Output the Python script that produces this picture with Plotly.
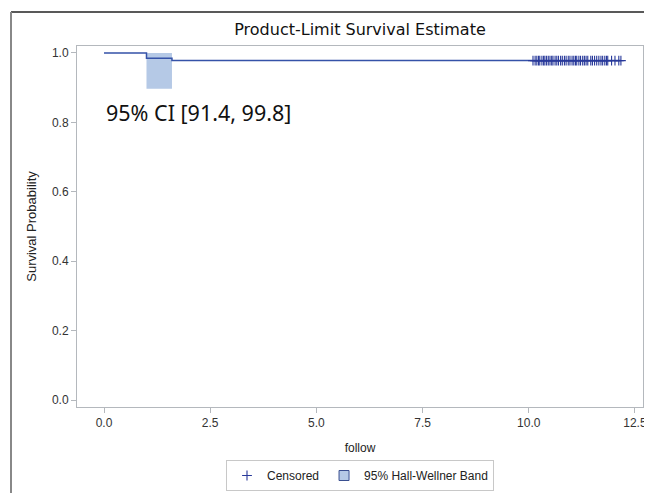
import plotly.graph_objects as go

# Kaplan-Meier step data
km_times = [0.0, 1.0, 1.6, 12.17]
km_surv = [1.0, 0.985, 0.978, 0.978]

# Hall-Wellner band (only drawn over the event interval)
band_times = [1.0, 1.6]
band_upper = [1.0, 1.0]
band_lower = [0.897, 0.897]

# Censored times
censor_times = [
    10.10, 10.15, 10.19, 10.23, 10.26,
    10.31, 10.35, 10.38, 10.42, 10.46, 10.50, 10.54, 10.57,
    10.62, 10.66, 10.70, 10.75, 10.79, 10.84, 10.88, 10.93, 10.97, 11.02, 11.06, 11.10, 11.13,
    11.18, 11.22, 11.27, 11.31, 11.35, 11.39,
    11.46, 11.50, 11.55, 11.60, 11.65, 11.70, 11.74, 11.79, 11.83, 11.86,
    11.95, 12.03, 12.12, 12.17,
]
censor_surv = [0.978] * len(censor_times)

x_ticks = [0.0, 2.5, 5.0, 7.5, 10.0, 12.5]
y_ticks = [0.0, 0.2, 0.4, 0.6, 0.8, 1.0]

LINE = "#3552a8"
MARK = "#28399a"
BAND = "#b5c9e6"
GRAY = "#b4b8bd"
FONT = "Liberation Sans, Arial, sans-serif"
WIDE = "DejaVu Sans, sans-serif"

W, H = 644, 485

fig = go.Figure()

fig.add_trace(go.Scatter(
    x=band_times + band_times[::-1],
    y=band_upper + band_lower[::-1],
    fill="toself", fillcolor=BAND, line=dict(width=0, color=BAND),
    mode="lines", showlegend=False, hoverinfo="skip",
))
fig.add_trace(go.Scatter(
    x=km_times, y=km_surv, mode="lines", line=dict(color=LINE, width=1.5, shape="hv"),
    showlegend=False,
))
fig.add_trace(go.Scatter(
    x=censor_times, y=censor_surv, mode="markers", name="Censored",
    marker=dict(symbol="cross-thin", size=7, line=dict(color=MARK, width=1.1), color=MARK),
    legendrank=1,
))
# legend entry for band
fig.add_trace(go.Scatter(
    x=[None], y=[None], mode="markers", name="95% Hall-Wellner Band",
    marker=dict(symbol="square", size=10, color=BAND, line=dict(color="#3a4f90", width=1)),
    legendrank=2,
))

fig.add_annotation(
    x=0.0, y=0.827, xref="x", yref="y", text="95% CI [91.4, 99.8]",
    showarrow=False, xanchor="left", yanchor="middle",
    font=dict(family="Noto Sans, Open Sans, sans-serif", size=21.5, color="#111111"),
)

# outer frame lines
fig.add_shape(type="line", xref="paper", yref="paper", x0=-0.1166, x1=1.05, y0=1.094, y1=1.094,
              line=dict(color="#222222", width=1.5))
fig.add_shape(type="line", xref="paper", yref="paper", x0=-0.1166, x1=-0.1166, y0=1.094, y1=-0.26,
              line=dict(color="#888888", width=2))

fig.update_layout(
    width=W, height=H,
    margin=dict(l=69, r=9, t=38, b=86),
    paper_bgcolor="white", plot_bgcolor="white",
    font=dict(family=FONT, size=12, color="#333333"),
    title=dict(text="Product-Limit Survival Estimate", x=0.5, xref="paper", xanchor="center",
               y=1 - 21 / H, yanchor="middle",
               font=dict(family=WIDE, size=16, color="#111111")),
    showlegend=True,
    legend=dict(orientation="h", x=0.5, xanchor="center", xref="paper",
                y=1 - 483 / H, yanchor="bottom", yref="container",
                bordercolor="#c8c8c8", borderwidth=1, font=dict(family=FONT, size=12, color="#222222"),
                itemwidth=30, tracegroupgap=0),
)

fig.update_xaxes(
    range=[-0.636, 12.69], tickvals=x_ticks, ticktext=[f"{v:.1f}" for v in x_ticks],
    showgrid=False, zeroline=False, showline=True, linecolor=GRAY, linewidth=1, mirror=True,
    ticks="outside", ticklen=5, tickcolor=GRAY, automargin=False,
    title=dict(text="follow", font=dict(family=FONT, size=12, color="#222222"), standoff=14),
    tickfont=dict(family=FONT, size=12, color="#333333"),
)
fig.update_yaxes(
    range=[-0.02, 1.02], tickvals=y_ticks, ticktext=[f"{v:.1f}" for v in y_ticks],
    showgrid=False, zeroline=False, showline=True, linecolor=GRAY, linewidth=1, mirror=True,
    ticks="outside", ticklen=5, tickcolor=GRAY, automargin=False,
    title=dict(text="Survival Probability", font=dict(family=FONT, size=13, color="#222222"), standoff=12),
    tickfont=dict(family=FONT, size=12, color="#333333"),
)

fig.write_html("out.html")
